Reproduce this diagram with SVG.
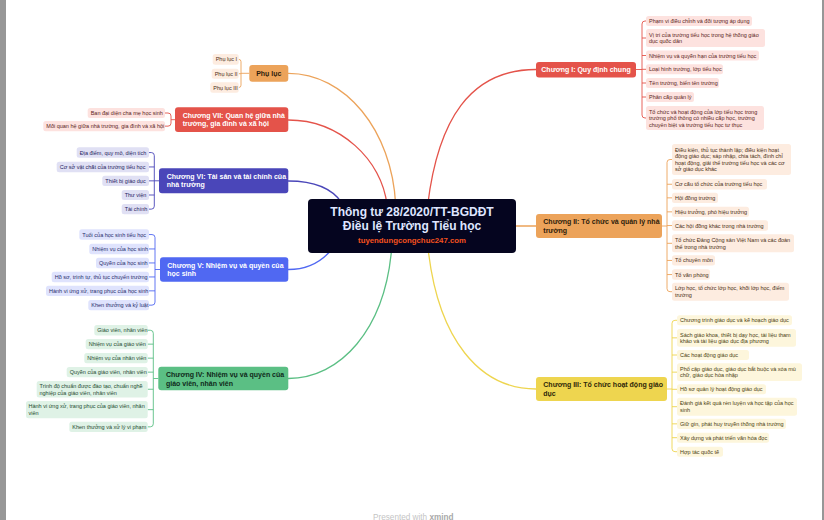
<svg xmlns="http://www.w3.org/2000/svg" width="824" height="520" viewBox="0 0 824 520">
<style>
text{font-family:"Liberation Sans",Arial,sans-serif}
.lf{font-size:5.5px}
.mn{font-size:7px;font-weight:bold}
.w{fill:#ffffff}
.cv{fill:none;stroke-width:1.3;stroke-linecap:round}
.br{fill:none;stroke-width:0.9}
.r1{fill:#e4534a}.r1l{fill:#fde2df}.r1t{fill:#5a1e1a}
.o1{fill:#eca35a}.o1l{fill:#fdece0}.o1t{fill:#4a2e14}
.y1{fill:#eed54f}.y1l{fill:#fdf6dc}.y1t{fill:#4a3d10}
.g1{fill:#5bbf84}.g1l{fill:#dff2e6}.g1t{fill:#1e4a2f}
.b1{fill:#5068f2}.b1l{fill:#dfe3fd}.b1t{fill:#1f2d6b}
.i1{fill:#4a46b9}.i1l{fill:#e0e0f4}.i1t{fill:#25235e}
</style>
<rect x="0" y="0" width="824" height="520" fill="#ffffff"/>
<rect x="0" y="0" width="6" height="520" fill="#979797"/>
<rect x="822" y="0" width="2" height="520" fill="#979797"/>

<g id="connectors">
  <path class="cv" stroke="#eca35a" d="M288.3,73.3C345,73.3 392,130 395.7,205"/>
  <path class="cv" stroke="#e4534a" d="M288.3,120C340,120 382,160 387,205"/>
  <path class="cv" stroke="#e4534a" d="M427.7,205C438,120 470,69.5 536,69.5"/>
  <path class="cv" stroke="#4a46b9" d="M288.3,181C315,181 332,188 342,203"/>
  <path class="cv" stroke="#5068f2" d="M288.3,269.5C305,269.5 320,264 332,249"/>
  <path class="cv" stroke="#5bbf84" d="M288.3,378.5C340,378.5 385,330 391.7,248"/>
  <path class="cv" stroke="#eed54f" d="M428,248C438,340 480,389 536,389"/>
  <path class="cv" stroke="#eca35a" d="M510,226H536"/>

  <path class="br" stroke="#e4534a" d="M636,69.5H642M646,21H645Q642,21 642,24V115Q642,118 645,118H646M642,38H646M642,55.5H646M642,69.3H646M642,83H646M642,97H646"/>
  <path class="br" stroke="#eca35a" d="M662,226H667M672,159.5H670Q667,159.5 667,162.5V288.7Q667,291.7 670,291.7H672M667,184.25H672M667,197.85H672M667,211.85H672M667,225.55H672M667,243.3H672M667,260.45H672M667,274.55H672"/>
  <path class="br" stroke="#eed54f" d="M667,389H672M677,320.3H675Q672,320.3 672,323.3V448.7Q672,451.7 675,451.7H677M672,337.85H677M672,355H677M672,372.15H677M672,389.3H677M672,406.7H677M672,423.85H677M672,437.7H677"/>
  <path class="br" stroke="#eca35a" d="M249.3,73.3H241M238.7,59.35Q241,59.35 241,61.7V85.2Q241,87.5 238.7,87.5M241,73.7H238.7"/>
  <path class="br" stroke="#e4534a" d="M175,119.7H171M165,113H168Q171,113 171,116V123.15Q171,126.15 168,126.15H165"/>
  <path class="br" stroke="#4a46b9" d="M159,180.8H154.3M149,152.55H151.3Q154.3,152.55 154.3,155.55V206.15Q154.3,209.15 151.3,209.15H149M154.3,166.95H149M154.3,180.85H149M154.3,195H149"/>
  <path class="br" stroke="#5068f2" d="M160,269.5H155M149,234.55H152Q155,234.55 155,237.55V302.15Q155,305.15 152,305.15H149M155,248.95H149M155,262.95H149M155,276.95H149M155,290.85H149"/>
  <path class="br" stroke="#5bbf84" d="M158.3,378.5H153.3M147.7,330.25H150.3Q153.3,330.25 153.3,333.25V423.85Q153.3,426.85 150.3,426.85H147.7M153.3,344.15H147.7M153.3,358.15H147.7M153.3,372.15H147.7M153.3,389.25H147.7M153.3,409.65H147.7"/>
</g>

<g id="center">
  <rect x="308" y="199" width="208" height="54" rx="4" fill="#05051f"/>
  <text x="412" y="216" text-anchor="middle" font-size="12" font-weight="bold" fill="#dfe5ff">Thông tư 28/2020/TT-BGDĐT</text>
  <text x="412" y="229.5" text-anchor="middle" font-size="12" font-weight="bold" fill="#dfe5ff">Điều lệ Trường Tiểu học</text>
  <text x="412" y="243.3" text-anchor="middle" font-size="7.8" font-weight="bold" fill="#f4511e">tuyendungcongchuc247.com</text>
</g>

<g id="chuong1">
  <rect class="r1" x="536" y="62" width="100" height="15.5" rx="3"/>
  <text class="mn w" x="586" y="72.3" text-anchor="middle">Chương I: Quy định chung</text>
  <g class="lf r1t">
    <rect class="r1l" x="646" y="16" width="106" height="10" rx="2.5"/><text x="649" y="23">Phạm vi điều chỉnh và đối tượng áp dụng</text>
    <rect class="r1l" x="646" y="29" width="119" height="18" rx="2.5"/><text x="649" y="36.75">Vị trí của trường tiểu học trong hệ thống giáo</text><text x="649" y="43.25">dục quốc dân</text>
    <rect class="r1l" x="646" y="50.5" width="113" height="10" rx="2.5"/><text x="649" y="57.5">Nhiệm vụ và quyền hạn của trường tiểu học</text>
    <rect class="r1l" x="646" y="64.3" width="77" height="10" rx="2.5"/><text x="649" y="71.3">Loại hình trường, lớp tiểu học</text>
    <rect class="r1l" x="646" y="78" width="73" height="10" rx="2.5"/><text x="649" y="85">Tên trường, biển tên trường</text>
    <rect class="r1l" x="646" y="92" width="48" height="10" rx="2.5"/><text x="649" y="99">Phân cấp quản lý</text>
    <rect class="r1l" x="646" y="106" width="118" height="24" rx="2.5"/><text x="649" y="113.5">Tổ chức và hoạt động của lớp tiểu học trong</text><text x="649" y="120">trường phổ thông có nhiều cấp học, trường</text><text x="649" y="126.5">chuyên biệt và trường tiểu học tư thục</text>
  </g>
</g>

<g id="chuong2">
  <rect class="o1" x="536" y="214" width="126" height="24" rx="3"/>
  <text class="mn" fill="#2e1d0c" x="543.3" y="224.3">Chương II: Tổ chức và quản lý nhà</text>
  <text class="mn" fill="#2e1d0c" x="543.3" y="232.8">trường</text>
  <g class="lf o1t">
    <rect class="o1l" x="672" y="144" width="119" height="31" rx="2.5"/><text x="675" y="151.75">Điều kiện, thủ tục thành lập; điều kiện hoạt</text><text x="675" y="158.25">động giáo dục; sáp nhập, chia tách, đình chỉ</text><text x="675" y="164.75">hoạt động, giải thể trường tiểu học và các cơ</text><text x="675" y="171.25">sở giáo dục khác</text>
    <rect class="o1l" x="672" y="179" width="95" height="10.5" rx="2.5"/><text x="675" y="186.25">Cơ cấu tổ chức của trường tiểu học</text>
    <rect class="o1l" x="672" y="192.7" width="46" height="10.3" rx="2.5"/><text x="675" y="199.85">Hội đồng trường</text>
    <rect class="o1l" x="672" y="206.7" width="77" height="10.3" rx="2.5"/><text x="675" y="213.85">Hiệu trưởng, phó hiệu trưởng</text>
    <rect class="o1l" x="672" y="220.3" width="96" height="10.5" rx="2.5"/><text x="675" y="227.55">Các hội đồng khác trong nhà trường</text>
    <rect class="o1l" x="672" y="234.3" width="122" height="18" rx="2.5"/><text x="675" y="242.05">Tổ chức Đảng Cộng sản Việt Nam và các đoàn</text><text x="675" y="248.55">thể trong nhà trường</text>
    <rect class="o1l" x="672" y="255.3" width="43" height="10.3" rx="2.5"/><text x="675" y="262.45">Tổ chuyên môn</text>
    <rect class="o1l" x="672" y="269.3" width="38" height="10.5" rx="2.5"/><text x="675" y="276.55">Tổ văn phòng</text>
    <rect class="o1l" x="672" y="282.7" width="117" height="18" rx="2.5"/><text x="675" y="290.45">Lớp học, tổ chức lớp học, khối lớp học, điểm</text><text x="675" y="296.95">trường</text>
  </g>
</g>

<g id="chuong3">
  <rect class="y1" x="536" y="377" width="131" height="24" rx="3"/>
  <text class="mn" fill="#2e2708" x="543.3" y="387.3">Chương III: Tổ chức hoạt động giáo</text>
  <text class="mn" fill="#2e2708" x="543.3" y="395.8">dục</text>
  <g class="lf y1t">
    <rect class="y1l" x="677" y="315.3" width="115" height="10" rx="2.5"/><text x="680" y="322.3">Chương trình giáo dục và kế hoạch giáo dục</text>
    <rect class="y1l" x="677" y="329" width="119" height="17.7" rx="2.5"/><text x="680" y="336.6">Sách giáo khoa, thiết bị dạy học, tài liệu tham</text><text x="680" y="343.1">khảo và tài liệu giáo dục địa phương</text>
    <rect class="y1l" x="677" y="350" width="72" height="10" rx="2.5"/><text x="680" y="357">Các hoạt động giáo dục</text>
    <rect class="y1l" x="677" y="363.3" width="125" height="17.7" rx="2.5"/><text x="680" y="370.9">Phổ cập giáo dục, giáo dục bắt buộc và xóa mù</text><text x="680" y="377.4">chữ, giáo dục hòa nhập</text>
    <rect class="y1l" x="677" y="384.3" width="89" height="10" rx="2.5"/><text x="680" y="391.3">Hồ sơ quản lý hoạt động giáo dục</text>
    <rect class="y1l" x="677" y="397.7" width="120" height="18" rx="2.5"/><text x="680" y="405.45">Đánh giá kết quả rèn luyện và học tập của học</text><text x="680" y="411.95">sinh</text>
    <rect class="y1l" x="677" y="418.7" width="109" height="10.3" rx="2.5"/><text x="680" y="425.85">Giữ gìn, phát huy truyền thống nhà trường</text>
    <rect class="y1l" x="677" y="432.7" width="92" height="10" rx="2.5"/><text x="680" y="439.7">Xây dựng và phát triển văn hóa đọc</text>
    <rect class="y1l" x="677" y="446.7" width="46" height="10" rx="2.5"/><text x="680" y="453.7">Hợp tác quốc tế</text>
  </g>
</g>

<g id="chuong4">
  <rect class="g1" x="158.3" y="366.7" width="130" height="23.6" rx="3"/>
  <text class="mn" fill="#0f2a1a" x="166" y="377">Chương IV: Nhiệm vụ và quyền của</text>
  <text class="mn" fill="#0f2a1a" x="166" y="385.5">giáo viên, nhân viên</text>
  <g class="lf g1t">
    <rect class="g1l" x="94.3" y="325" width="53.4" height="10.5" rx="2.5"/><text x="97.3" y="332.25">Giáo viên, nhân viên</text>
    <rect class="g1l" x="85.7" y="339" width="62" height="10.3" rx="2.5"/><text x="88.7" y="346.15">Nhiệm vụ của giáo viên</text>
    <rect class="g1l" x="84.3" y="353" width="63.4" height="10.3" rx="2.5"/><text x="87.3" y="360.15">Nhiệm vụ của nhân viên</text>
    <rect class="g1l" x="66.7" y="367" width="81" height="10.3" rx="2.5"/><text x="69.7" y="374.15">Quyền của giáo viên, nhân viên</text>
    <rect class="g1l" x="36.7" y="381" width="111" height="16.5" rx="2.5"/><text x="39.5" y="388">Trình độ chuẩn được đào tạo, chuẩn nghề</text><text x="39.5" y="394.5">nghiệp của giáo viên, nhân viên</text>
    <rect class="g1l" x="26" y="401" width="121.7" height="17.3" rx="2.5"/><text x="28.5" y="408.4">Hành vi ứng xử, trang phục của giáo viên, nhân</text><text x="28.5" y="414.9">viên</text>
    <rect class="g1l" x="69.3" y="421.7" width="78.4" height="10.3" rx="2.5"/><text x="72.3" y="428.85">Khen thưởng và xử lý vi phạm</text>
  </g>
</g>

<g id="chuong5">
  <rect class="b1" x="160" y="257.3" width="128.3" height="24.4" rx="3"/>
  <text class="mn w" x="167.3" y="267.6">Chương V: Nhiệm vụ và quyền của</text>
  <text class="mn w" x="167.3" y="276.1">học sinh</text>
  <g class="lf b1t">
    <rect class="b1l" x="79.3" y="229.3" width="69.7" height="10.5" rx="2.5"/><text x="82.3" y="236.55">Tuổi của học sinh tiểu học</text>
    <rect class="b1l" x="89.3" y="243.7" width="59.7" height="10.5" rx="2.5"/><text x="92.3" y="250.95">Nhiệm vụ của học sinh</text>
    <rect class="b1l" x="96" y="257.7" width="53" height="10.5" rx="2.5"/><text x="99" y="264.95">Quyền của học sinh</text>
    <rect class="b1l" x="51.7" y="271.7" width="97.3" height="10.5" rx="2.5"/><text x="54.7" y="278.95">Hồ sơ, trình tự, thủ tục chuyển trường</text>
    <rect class="b1l" x="46" y="285.7" width="103" height="10.3" rx="2.5"/><text x="49" y="292.85">Hành vi ứng xử, trang phục của học sinh</text>
    <rect class="b1l" x="88.3" y="300" width="60.7" height="10.3" rx="2.5"/><text x="91.3" y="307.15">Khen thưởng và kỷ luật</text>
  </g>
</g>

<g id="chuong6">
  <rect class="i1" x="159" y="168.3" width="129.3" height="25" rx="3"/>
  <text class="mn w" x="166.7" y="178.6">Chương VI: Tài sản và tài chính của</text>
  <text class="mn w" x="166.7" y="187.1">nhà trường</text>
  <g class="lf i1t">
    <rect class="i1l" x="76.7" y="147.3" width="72.3" height="10.5" rx="2.5"/><text x="79.7" y="154.55">Địa điểm, quy mô, diện tích</text>
    <rect class="i1l" x="56.7" y="161.7" width="92.3" height="10.5" rx="2.5"/><text x="59.7" y="168.95">Cơ sở vật chất của trường tiểu học</text>
    <rect class="i1l" x="102.3" y="175.7" width="46.7" height="10.3" rx="2.5"/><text x="105.3" y="182.85">Thiết bị giáo dục</text>
    <rect class="i1l" x="121.7" y="190" width="27.3" height="10" rx="2.5"/><text x="124.7" y="197">Thư viện</text>
    <rect class="i1l" x="121.7" y="204" width="27.3" height="10.3" rx="2.5"/><text x="124.7" y="211.15">Tài chính</text>
  </g>
</g>

<g id="chuong7">
  <rect class="r1" x="175" y="107.3" width="113.3" height="24.7" rx="3"/>
  <text class="mn w" x="182.7" y="117.6">Chương VII: Quan hệ giữa nhà</text>
  <text class="mn w" x="182.7" y="126.1">trường, gia đình và xã hội</text>
  <g class="lf r1t">
    <rect class="r1l" x="87.7" y="108" width="77.3" height="10" rx="2.5"/><text x="90.7" y="115">Ban đại diện cha mẹ học sinh</text>
    <rect class="r1l" x="43.3" y="121" width="121.7" height="10.3" rx="2.5"/><text x="46.3" y="128.15">Mối quan hệ giữa nhà trường, gia đình và xã hội</text>
  </g>
</g>

<g id="phuluc">
  <rect class="o1" x="249.3" y="65" width="39" height="16.7" rx="3"/>
  <text class="mn" fill="#2e1d0c" x="268.8" y="75.8" text-anchor="middle">Phụ lục</text>
  <g class="lf o1t">
    <rect class="o1l" x="212.7" y="54" width="26" height="10.7" rx="2.5"/><text x="215.7" y="61.35">Phụ lục I</text>
    <rect class="o1l" x="211.7" y="68.7" width="27" height="10" rx="2.5"/><text x="214.7" y="75.7">Phụ lục II</text>
    <rect class="o1l" x="210.3" y="82.3" width="28.4" height="10.4" rx="2.5"/><text x="213.3" y="89.5">Phụ lục III</text>
  </g>
</g>

<text x="373" y="519.5" font-size="8.2" fill="#c4c4c4">Presented with <tspan font-weight="bold" fill="#a8a8a8">xmind</tspan></text>
</svg>
